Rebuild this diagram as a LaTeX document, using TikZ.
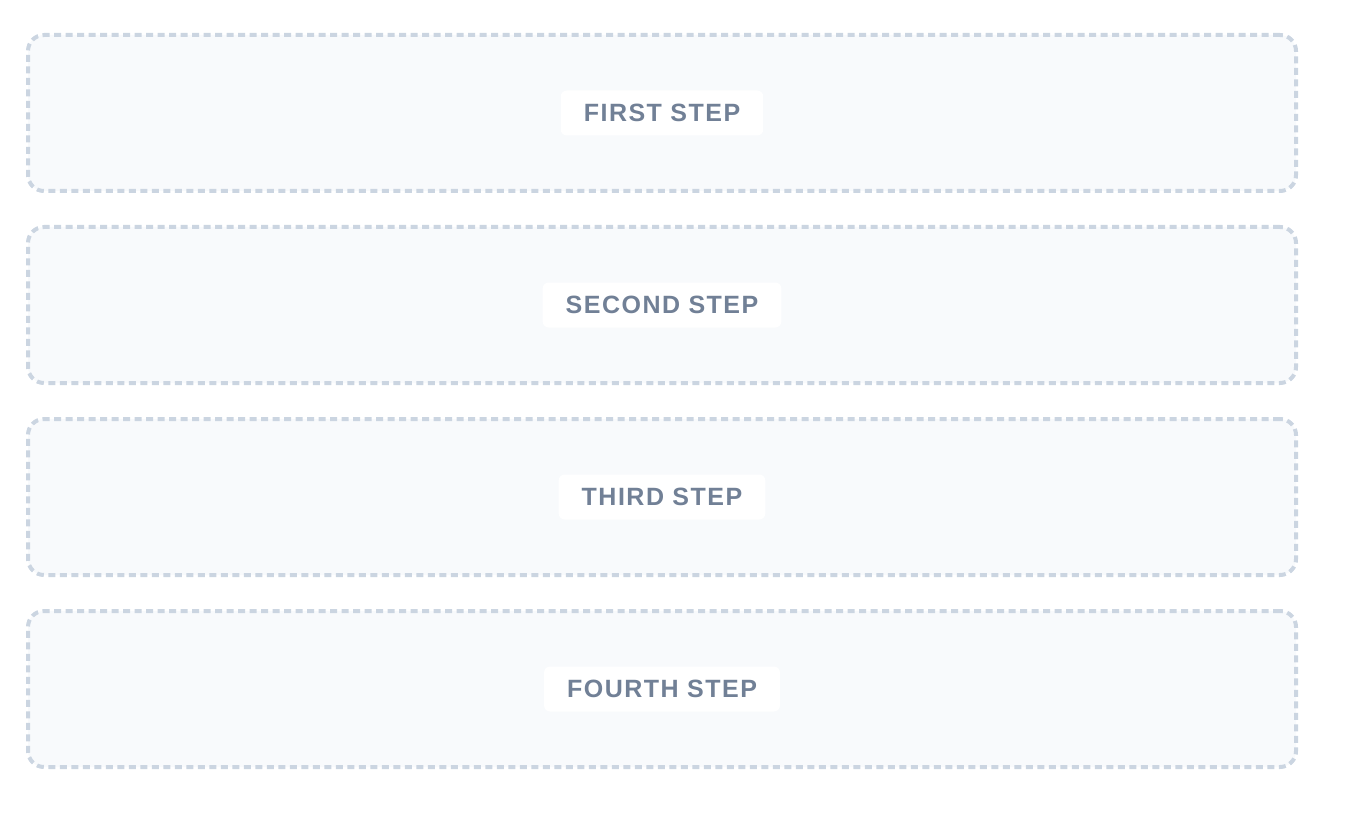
\documentclass[tikz,border=0pt]{standalone}
\usepackage{fontspec}
\setmainfont{Liberation Sans}
\newfontfamily\labelfont[LetterSpace=6]{Liberation Sans}
\definecolor{framegray}{HTML}{CBD5E1}
\definecolor{framefill}{HTML}{F8FAFC}
\definecolor{labelgray}{HTML}{718096}
\tikzstyle{stepframe}=[draw=framegray, fill=framefill, line width=4pt, dash pattern=on 7pt off 4.5pt, rounded corners=16pt, minimum width=1268pt, minimum height=156pt]
\tikzstyle{steplabel}=[fill=white, rounded corners=6pt, text=labelgray, font=\labelfont\bfseries\fontsize{25}{28}\selectfont, inner xsep=23pt, minimum height=45pt]
\newcommand{\stepbox}[3]{% name, y centre, text
	\node[stepframe] (#1frame) at (662pt,#2) {};
	\node[steplabel] (#1label) at (#1frame.center) {#3};
}

\begin{document}
\begin{tikzpicture}[yscale=-1]
	\useasboundingbox (0,0) rectangle (1348pt,818pt);
	\stepbox{first}{113pt}{FIRST STEP}
	\stepbox{second}{305pt}{SECOND STEP}
	\stepbox{third}{497pt}{THIRD STEP}
	\stepbox{fourth}{689pt}{FOURTH STEP}
\end{tikzpicture}
\end{document}
